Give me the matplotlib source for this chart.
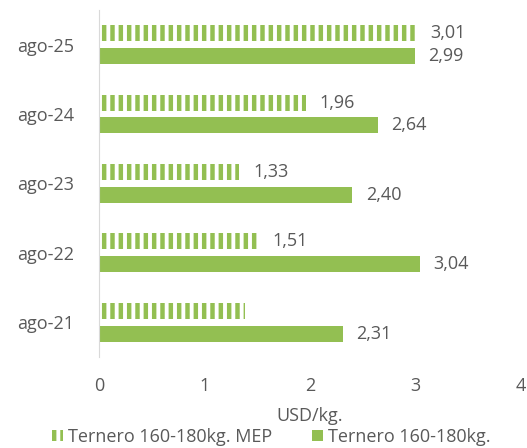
import numpy as np
import matplotlib
matplotlib.use("Agg")
import matplotlib.pyplot as plt

plt.rcParams["font.family"] = ["Open Sans", "DejaVu Sans"]
plt.rcParams["hatch.linewidth"] = 3.2

GREEN = "#93BF52"
TXT = "#595959"
FS = 13

categories = ["ago-21", "ago-22", "ago-23", "ago-24", "ago-25"]
mep = [1.38, 1.51, 1.33, 1.96, 3.01]
mep_labels = ["", "1,51", "1,33", "1,96", "3,01"]
ternero = [2.31, 3.04, 2.40, 2.64, 2.99]
ternero_labels = ["2,31", "3,04", "2,40", "2,64", "2,99"]

fig = plt.figure(figsize=(5.27, 4.48), dpi=100)
ax = fig.add_axes([0.188, 0.203, 0.801, 0.775])

y = np.arange(len(categories))
h = 0.23
off = 0.165
b1 = ax.barh(y + off, mep, height=h, facecolor="white", edgecolor=GREEN,
             hatch="||", linewidth=0, label="Ternero 160-180kg. MEP")
b2 = ax.barh(y - off, ternero, height=h, color=GREEN, label="Ternero 160-180kg.")

for yi, v, t in zip(y + off, mep, mep_labels):
    if t:
        ax.text(v + 0.13, yi, t, va="center", ha="left", fontsize=FS, color=TXT)
for yi, v, t in zip(y - off, ternero, ternero_labels):
    ax.text(v + 0.13, yi, t, va="center", ha="left", fontsize=FS, color=TXT)

ax.set_xlim(0, 4)
ax.set_ylim(-0.5, 4.5)
ax.set_xticks([0, 1, 2, 3, 4])
ax.set_yticks(y)
ax.set_yticklabels(categories)
ax.tick_params(axis="both", length=0, labelsize=FS, labelcolor=TXT)
ax.tick_params(axis="x", pad=14)
ax.tick_params(axis="y", pad=18)
for s in ["top", "right", "bottom"]:
    ax.spines[s].set_visible(False)
ax.spines["left"].set_color("#D9D9D9")
ax.set_xlabel("USD/kg.", fontsize=FS, color=TXT, labelpad=9)

fig.legend(handles=[b1, b2], loc="center", bbox_to_anchor=(0.515, 1 - 437 / 448),
           ncol=2, frameon=False, fontsize=FS, labelcolor=TXT,
           handlelength=0.6, handleheight=0.6, handletextpad=0.3, columnspacing=2.2)

fig.savefig("out.png", dpi=100, facecolor="white")
